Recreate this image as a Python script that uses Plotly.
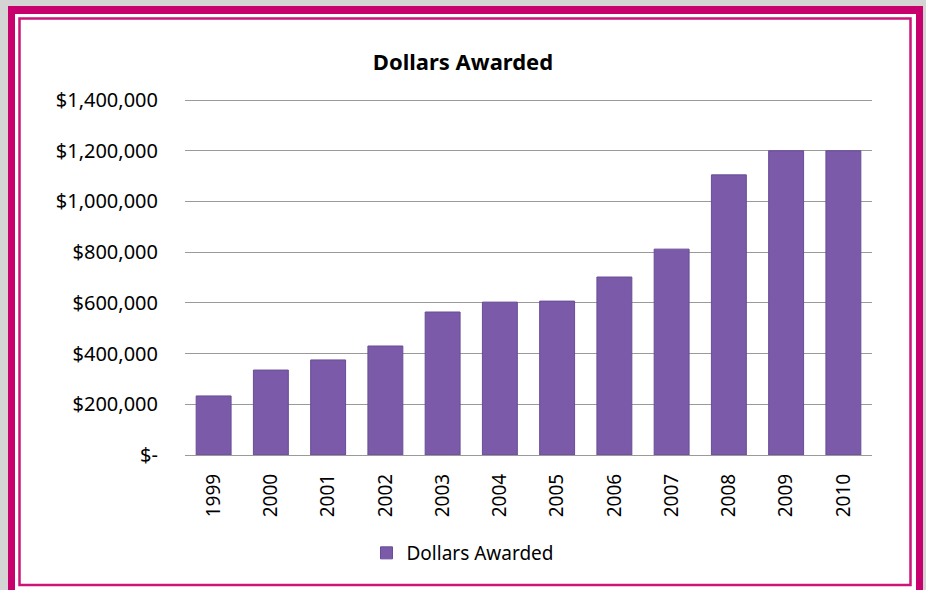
import plotly.graph_objects as go

years = ["1999", "2000", "2001", "2002", "2003", "2004", "2005", "2006", "2007", "2008", "2009", "2010"]
awarded = [233000, 335000, 375000, 430000, 564000, 603000, 607000, 702000, 812000, 1105000, 1200000, 1200000]
y_ticks = [0, 200000, 400000, 600000, 800000, 1000000, 1200000, 1400000]
y_labels = ["$-" if v == 0 else "${:,}".format(v) for v in y_ticks]

Y_TOP = 1420000
W, H = 926, 590
L, R, B = 185, 54, 135
PH = round(355 * Y_TOP / 1400000)
T = H - B - PH
PW = W - L - R


def px(x):
    return (x - L) / PW


def py(y):
    return (H - B - y) / PH


FONT = "Noto Sans"
MAG = "#c8006e"

fig = go.Figure()
fig.add_trace(go.Bar(
    x=years, y=awarded, name="Dollars Awarded",
    marker=dict(color="#7a5aa9", line=dict(color="#694d97", width=1)),
))

shapes = [
    dict(type="rect", xref="paper", yref="paper", x0=px(8), x1=px(923), y0=py(6), y1=py(640),
         fillcolor=MAG, line=dict(width=0), layer="below"),
    dict(type="rect", xref="paper", yref="paper", x0=px(15), x1=px(916), y0=py(14), y1=py(640),
         fillcolor="white", line=dict(width=0), layer="below"),
    dict(type="rect", xref="paper", yref="paper", x0=px(19.5), x1=px(910.5), y0=py(18.5), y1=py(585),
         fillcolor="rgba(0,0,0,0)", line=dict(color="#cc1577", width=2.5), layer="below"),
]

fig.update_layout(
    width=W, height=H,
    margin=dict(l=L, r=R, t=T, b=B),
    paper_bgcolor="#d4d4d4",
    plot_bgcolor="white",
    font=dict(family=FONT, size=20, color="#000000"),
    title=dict(text="<b>Dollars Awarded</b>", x=0.5, xref="container", xanchor="center",
               y=1 - 62 / H, yref="container", yanchor="middle",
               font=dict(family=FONT, size=22, color="#000000")),
    shapes=shapes,
    bargap=0.39,
    showlegend=True,
    legend=dict(orientation="h", x=0.5, xref="container", xanchor="center",
                y=1 - 553 / H, yref="container", yanchor="middle",
                bgcolor="rgba(0,0,0,0)", font=dict(family=FONT, size=19)),
    xaxis=dict(tickangle=-90, showgrid=False, showline=False, ticks="",
               ticklabelstandoff=14, tickfont=dict(size=19)),
    yaxis=dict(range=[0, Y_TOP], tickvals=y_ticks, ticktext=y_labels,
               showgrid=True, gridcolor="#9a9a9a", gridwidth=1,
               zeroline=True, zerolinecolor="#9a9a9a", zerolinewidth=1,
               showline=False, ticks="", ticklabelstandoff=26,
               tickfont=dict(size=20)),
)

fig.write_html(
    "out.html",
    config={"displayModeBar": False},
    post_script="document.body.style.margin='0';document.body.style.background='#d4d4d4';",
)
